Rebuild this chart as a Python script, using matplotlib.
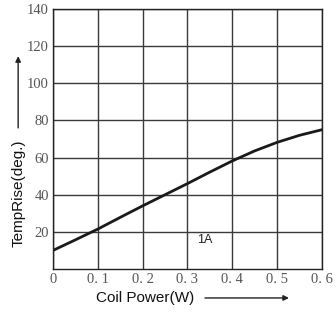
import numpy as np
import matplotlib.pyplot as plt

# data
power = [0.0, 0.05, 0.1, 0.15, 0.2, 0.25, 0.3, 0.35, 0.4, 0.45, 0.5, 0.55, 0.6]
temp_rise = [10, 15.7, 21.5, 27.8, 34, 40, 46, 52.2, 58.2, 63.6, 68.2, 72, 75]
xticks = [0, 0.1, 0.2, 0.3, 0.4, 0.5, 0.6]
xtick_labels = ['0', '0. 1', '0. 2', '0. 3', '0. 4', '0. 5', '0. 6']
yticks = [20, 40, 60, 80, 100, 120, 140]

fig = plt.figure(figsize=(3.36, 3.12), dpi=100)
ax = fig.add_axes([0.1577, 0.1378, 0.8006, 0.8334])

ax.plot(power, temp_rise, color='#1a1a1a', lw=2.0)
ax.set_xlim(0, 0.6)
ax.set_ylim(0, 140)
ax.set_xticks(xticks)
ax.set_xticklabels(xtick_labels)
ax.set_yticks(yticks)
ax.grid(True, color='#3a3a3a', lw=1.0)
for s in ax.spines.values():
    s.set_color('#222222')
    s.set_linewidth(1.0)
ax.tick_params(length=0, pad=3, labelsize=10.5, colors='#555555')
for lab in ax.get_xticklabels() + ax.get_yticklabels():
    lab.set_family('Liberation Serif')

ax.text(0.321, 14, '1A', fontsize=9, family='Liberation Sans', color='#222222')

fig.text(0.432, 0.045, 'Coil Power(W)', fontsize=11, family='Liberation Sans',
         ha='center', va='center', color='#111111')
fig.text(0.054, 0.38, 'TempRise(deg.)', fontsize=11, family='Liberation Sans',
         rotation=90, ha='center', va='center', color='#111111')

# arrows next to the axis titles
ax.annotate('', xy=(0.86, 0.045), xytext=(0.61, 0.045), xycoords='figure fraction',
            annotation_clip=False,
            arrowprops=dict(arrowstyle='-|>', color='#222222', lw=1.0, mutation_scale=8,
                            shrinkA=0, shrinkB=0))
ax.annotate('', xy=(0.054, 0.82), xytext=(0.054, 0.59), xycoords='figure fraction',
            annotation_clip=False,
            arrowprops=dict(arrowstyle='-|>', color='#222222', lw=1.0, mutation_scale=8,
                            shrinkA=0, shrinkB=0))

fig.savefig('out.png', dpi=100)
